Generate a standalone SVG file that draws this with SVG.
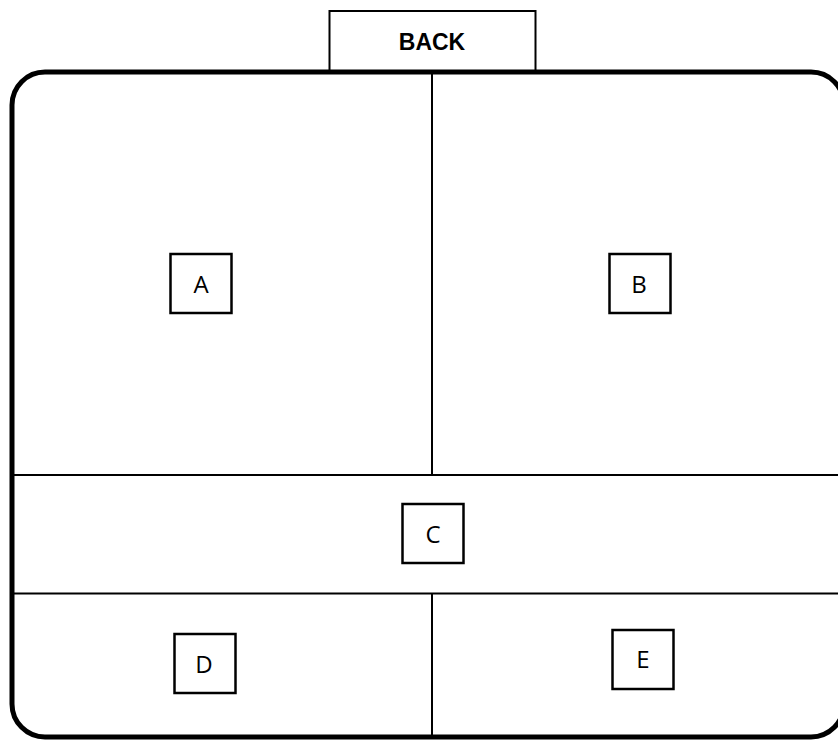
<svg xmlns="http://www.w3.org/2000/svg" width="838" height="740" viewBox="0 0 838 740">
<style>
.frame{fill:none;stroke:#000;stroke-width:5}
.div{fill:none;stroke:#000;stroke-width:2}
.box{fill:#fff;stroke:#000;stroke-width:2.5}
.lbl{font-family:"Open Sans","Liberation Sans",sans-serif;font-size:24px;fill:#000;text-anchor:middle}
.back{font-family:"Liberation Sans",Arial,sans-serif;font-size:23px;font-weight:bold;fill:#000;text-anchor:middle}
</style>
<rect width="838" height="740" fill="#fff"/>
<g id="back">
<rect x="329.5" y="11" width="206" height="61" fill="#fff" stroke="#000" stroke-width="2"/>
<text class="back" x="432" y="49.5">BACK</text>
</g>
<g id="frame">
<rect class="frame" x="12" y="72" width="832" height="665" rx="33" ry="33"/>
</g>
<g id="dividers">
<line class="div" x1="432" y1="72" x2="432" y2="475"/>
<line class="div" x1="12" y1="475" x2="838" y2="475"/>
<line class="div" x1="12" y1="593.5" x2="838" y2="593.5"/>
<line class="div" x1="432" y1="593.5" x2="432" y2="737"/>
</g>
<g id="A">
<rect class="box" x="170.5" y="254" width="61" height="59"/>
<text class="lbl" x="201" y="293">A</text>
</g>
<g id="B">
<rect class="box" x="609.5" y="254" width="61" height="59"/>
<text class="lbl" x="639" y="293">B</text>
</g>
<g id="C">
<rect class="box" x="402.5" y="504" width="61" height="59"/>
<text class="lbl" x="433" y="543">C</text>
</g>
<g id="D">
<rect class="box" x="174.5" y="634" width="61" height="59"/>
<text class="lbl" x="204" y="673">D</text>
</g>
<g id="E">
<rect class="box" x="612.5" y="630" width="61" height="59"/>
<text class="lbl" x="643" y="668">E</text>
</g>
</svg>
